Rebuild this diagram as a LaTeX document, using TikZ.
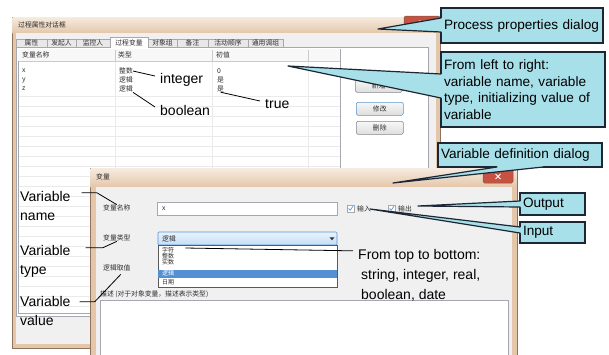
\documentclass[tikz,border=0pt]{standalone}
\usepackage{fontspec}
\setmainfont{Liberation Sans}
\newfontfamily\cjk{Noto Sans CJK SC}
\usetikzlibrary{calc}

\definecolor{calloutfill}{RGB}{168,224,234}
\definecolor{calloutline}{RGB}{28,38,52}
\definecolor{framepeach}{RGB}{228,198,170}
\definecolor{framelight}{RGB}{246,234,222}
\definecolor{frameedge}{RGB}{145,115,92}
\definecolor{panegray}{RGB}{240,240,240}
\definecolor{tabgray}{RGB}{232,232,232}
\definecolor{gridgray}{RGB}{234,234,234}
\definecolor{ctlborder}{RGB}{165,168,175}
\definecolor{uitext}{RGB}{45,45,45}
\definecolor{closered}{RGB}{200,82,66}
\definecolor{selblue}{RGB}{84,144,212}
\definecolor{comboedge}{RGB}{88,148,208}
\definecolor{combotop}{RGB}{234,243,252}
\definecolor{combobot}{RGB}{196,222,246}
\definecolor{btntop}{RGB}{247,247,247}
\definecolor{btnbot}{RGB}{222,222,222}

\begin{document}
\begin{tikzpicture}[x=1pt,y=-1pt,
  ui/.style={font=\cjk\fontsize{6.8}{7}\selectfont, text=uitext, inner sep=0pt, anchor=west},
  uic/.style={ui, anchor=center},
  uismall/.style={ui, font=\cjk\fontsize{6}{6}\selectfont},
  note/.style={font=\fontsize{14}{19}\selectfont, inner sep=0pt, anchor=west, align=left},
  callbox/.style={draw=calloutline, fill=calloutfill, line width=1.2pt, anchor=north west,
    outer sep=0pt, font=\fontsize{13.6}{16.7}\selectfont, inner xsep=3pt, inner ysep=0pt, align=left},
  wedge/.style={draw=calloutline, line width=1.2pt, line join=round, line cap=round},
  lead/.style={draw=black, line width=0.8pt},
  winframe/.style={draw=frameedge, fill=framepeach, line width=0.6pt},
  titlebar/.style={top color=framelight, bottom color=framepeach},
  closebtn/.style={draw=frameedge!80!black, fill=closered, line width=0.5pt, rounded corners=1.5pt},
  tabtab/.style={draw=ctlborder, fill=tabgray, line width=0.5pt},
  btnnode/.style={draw=ctlborder!80!black, top color=btntop, bottom color=btnbot, line width=0.5pt,
    rounded corners=1.5pt, font=\cjk\fontsize{6.8}{7}\selectfont, text=uitext, inner sep=0pt,
    minimum width=47pt, minimum height=13pt, anchor=north west},
  field/.style={draw=ctlborder, fill=white, line width=0.5pt},
  tick/.style={draw=comboedge, line width=0.7pt, line join=round},
]
\clip (0,0) rectangle (609,354);
\fill[white] (0,0) rectangle (609,354);

% ---------- process properties window ----------
\draw[winframe] (12,17) rectangle (440,348);
\shade[titlebar] (12.5,17.5) rectangle (439.5,33);
\node[ui] (d1title) at (18,25) {过程属性对话框};
\draw[closebtn] (404,16) rectangle (440,30);
\draw[white, line width=0.9pt] (419.5,20.5) -- (424.5,25.5) (424.5,20.5) -- (419.5,25.5);
\fill[panegray] (16,33) rectangle (436,344);

% tab strip
\foreach \a/\b/\t in {16/47/属性,47/76/发起人,76/110/监控人,148/177/对象组,177/208/备注,208/248/活动顺序,248/283/通用调组}{
  \draw[tabtab] (\a,39) rectangle (\b,47);
  \node[uic] (tab\a) at ({(\a+\b)/2},43) {\t};
}
\draw[ctlborder, fill=white, line width=0.5pt] (16,47) rectangle (428,316);
\draw[ctlborder, fill=white, line width=0.5pt] (110,47.6) -- (110,37) -- (148,37) -- (148,47.6);
\node[uic] (tabsel) at (129,42.5) {过程变量};

% variable list
\draw[ctlborder, fill=white, line width=0.6pt] (18,49) rectangle (340,313);
\foreach \y in {96,106,...,306} \draw[gridgray, line width=0.4pt] (18.5,\y) -- (339.5,\y);
\foreach \x in {115,212,308} \draw[gridgray, line width=0.4pt] (\x,61) -- (\x,312.5);
\fill[panegray!50!white] (18.4,49.4) rectangle (339.6,61);
\draw[ctlborder!60!white, line width=0.4pt] (18.5,61) -- (339.5,61);
\foreach \x in {115,212,308} \draw[ctlborder!60!white, line width=0.4pt] (\x,49.5) -- (\x,61);
\node[ui] (h1) at (22,55) {变量名称};
\node[ui] (h2) at (118,55) {类型};
\node[ui] (h3) at (216,55) {初值};
\node[ui] (r1n) at (22,71) {x};
\node[ui] (r1t) at (119,71) {整数};
\node[ui] (r1v) at (217,71) {0};
\node[ui] (r2n) at (22,80) {y};
\node[ui] (r2t) at (119,80) {逻辑};
\node[ui] (r2v) at (217,80) {是};
\node[ui] (r3n) at (22,89) {z};
\node[ui] (r3t) at (119,89) {逻辑};
\node[ui] (r3v) at (217,89) {是};

% buttons
\node[btnnode] (bnew) at (355,79) {新增};
\node[btnnode, draw=comboedge] (bedit) at (356,102) {修改};
\node[btnnode] (bdel) at (356,121) {删除};

% ---------- variable window ----------
\draw[winframe] (90,168) rectangle (517,370);
\shade[titlebar] (90.5,168.5) rectangle (516.5,187);
\node[ui] (d2title) at (96,177) {变量};
\draw[closebtn] (483,170) rectangle (513,183);
\draw[white, line width=0.9pt] (495.5,174) -- (500.5,179) (500.5,174) -- (495.5,179);
\fill[panegray] (96,187) rectangle (512,370);

\node[ui] (lname) at (103,208) {变量名称};
\draw[field] (157,202) rectangle (337,215);
\node[ui] (vx) at (162,209) {x};

\draw[field] (347,205) rectangle (354,212);
\draw[tick] (348.6,208.4) -- (350.2,210.3) -- (352.8,206.3);
\node[ui] (inlbl) at (357,208.5) {输入};
\draw[field] (388,205) rectangle (395,212);
\draw[tick] (389.6,208.4) -- (391.2,210.3) -- (393.8,206.3);
\node[ui] (outlbl) at (398,208.5) {输出};

\node[ui] (ltype) at (103,238) {变量类型};
\draw[draw=comboedge, top color=combotop, bottom color=combobot, line width=0.6pt, rounded corners=1pt] (158,232) rectangle (337,245);
\node[ui] (combo) at (162,238.5) {逻辑};
\fill[uitext] (329.5,237.3) -- (334.5,237.3) -- (332,240.3) -- cycle;

\draw[draw=gray!70!black, fill=white, line width=0.5pt] (158,245) rectangle (337,287);
\fill[selblue] (158.4,270) rectangle (336.6,277.5);
\node[uismall] (dd1) at (162,250) {字符};
\node[uismall] (dd2) at (162,256) {整数};
\node[uismall] (dd3) at (162,262) {实数};
\node[uismall, text=white] (dd4) at (162,273.7) {逻辑};
\node[uismall] (dd5) at (162,282.5) {日期};

\node[ui] (lval) at (103,268) {逻辑取值};
\node[ui] (ldesc) at (100,294) {描述 (对于对象变量，描述表示类型)};
\draw[field] (100,300) rectangle (508,370);

% ---------- annotations ----------
\node[note] (integer) at (160,80) {integer};
\node[note] (boolean) at (160,110) {boolean};
\node[note] (true) at (265,104) {true};
\draw[lead] (r1t.east) -- ($(integer.west)+(-5,-4)$);
\draw[lead] (r3t.south east) -- ($(boolean.west)+(-5,-3)$);
\draw[lead] (r3v.south) -- ($(true.west)+(-5,-3)$);

\node[note] (vname) at (20,206) {Variable\\name};
\node[note] (vtype) at (20,261) {Variable\\type};
\node[note] (vvalue) at (20,311) {Variable\\value};
\draw[lead] ($(vname.north east)+(11,1.5)$) -- ++(15,0) -- (lname.north);
\draw[lead] ($(vtype.north east)+(15,3)$) -- ++(17,0) -- (ltype.south);
\draw[lead] ($(vvalue.north east)+(9,5.6)$) -- ++(15,0) -- ($(lval.south)+(4,3)$);

\node[note, font=\fontsize{14}{20}\selectfont] (topbot) at (358,275)
  {From top to bottom:\\\hspace*{3pt}string, integer, real,\\\hspace*{3pt}boolean, date};
\draw[lead] ($(dd1.east)+(11,-2)$) -- ($(topbot.north west)+(-5,2)$);

% ---------- callouts ----------
\node[callbox, minimum width=162pt, minimum height=35pt, text width=156pt] (c1) at (441,8) {Process properties dialog};
\coordinate (p1) at (378,29);
\coordinate (c1a) at ($(c1.north west)+(0,10)$);
\coordinate (c1b) at ($(c1.north west)+(0,24)$);
\fill[calloutfill] (c1a) -- (p1) -- (c1b) -- ($(c1b)+(2,0)$) -- ($(c1a)+(2,0)$) -- cycle;
\draw[wedge] (c1a) -- (p1) -- (c1b);

\node[callbox, minimum width=164pt, minimum height=75pt, text width=158pt] (c2) at (441,52)
  {From left to right:\\variable name, variable\\type, initializing value of\\variable};
\coordinate (p2) at (288,66);
\coordinate (c2a) at ($(c2.north west)+(0,22)$);
\coordinate (c2b) at ($(c2.north west)+(0,46)$);
\fill[calloutfill] (c2a) -- (p2) -- (c2b) -- ($(c2b)+(2,0)$) -- ($(c2a)+(2,0)$) -- cycle;
\draw[wedge] (c2a) -- (p2) -- (c2b);

\node[callbox, minimum width=164pt, minimum height=24pt, text width=158pt] (c3) at (438,143) {Variable definition dialog};
\coordinate (p3) at (393,183);
\coordinate (c3a) at ($(c3.south west)+(59,0)$);
\coordinate (c3b) at ($(c3.south west)+(105,0)$);
\fill[calloutfill] (c3a) -- (p3) -- (c3b) -- ($(c3b)+(0,-2)$) -- ($(c3a)+(0,-2)$) -- cycle;
\draw[wedge] (c3a) -- (p3) -- (c3b);

\node[callbox, minimum width=65pt, minimum height=22pt, text width=59pt] (cout) at (520,193) {Output};
\coordinate (p4) at (418,206);
\coordinate (c4a) at ($(cout.north west)+(0,8)$);
\coordinate (c4b) at ($(cout.north west)+(0,14)$);
\fill[calloutfill] (c4a) -- (p4) -- (c4b) -- ($(c4b)+(2,0)$) -- ($(c4a)+(2,0)$) -- cycle;
\draw[wedge] (c4a) -- (p4) -- (c4b);

\node[callbox, minimum width=65pt, minimum height=21pt, text width=59pt] (cin) at (520,222) {Input};
\coordinate (p5) at (370,209);
\coordinate (c5a) at ($(cin.north west)+(0,5)$);
\coordinate (c5b) at ($(cin.north west)+(0,11)$);
\fill[calloutfill] (c5a) -- (p5) -- (c5b) -- ($(c5b)+(2,0)$) -- ($(c5a)+(2,0)$) -- cycle;
\draw[wedge] (c5a) -- (p5) -- (c5b);
\end{tikzpicture}
\end{document}
